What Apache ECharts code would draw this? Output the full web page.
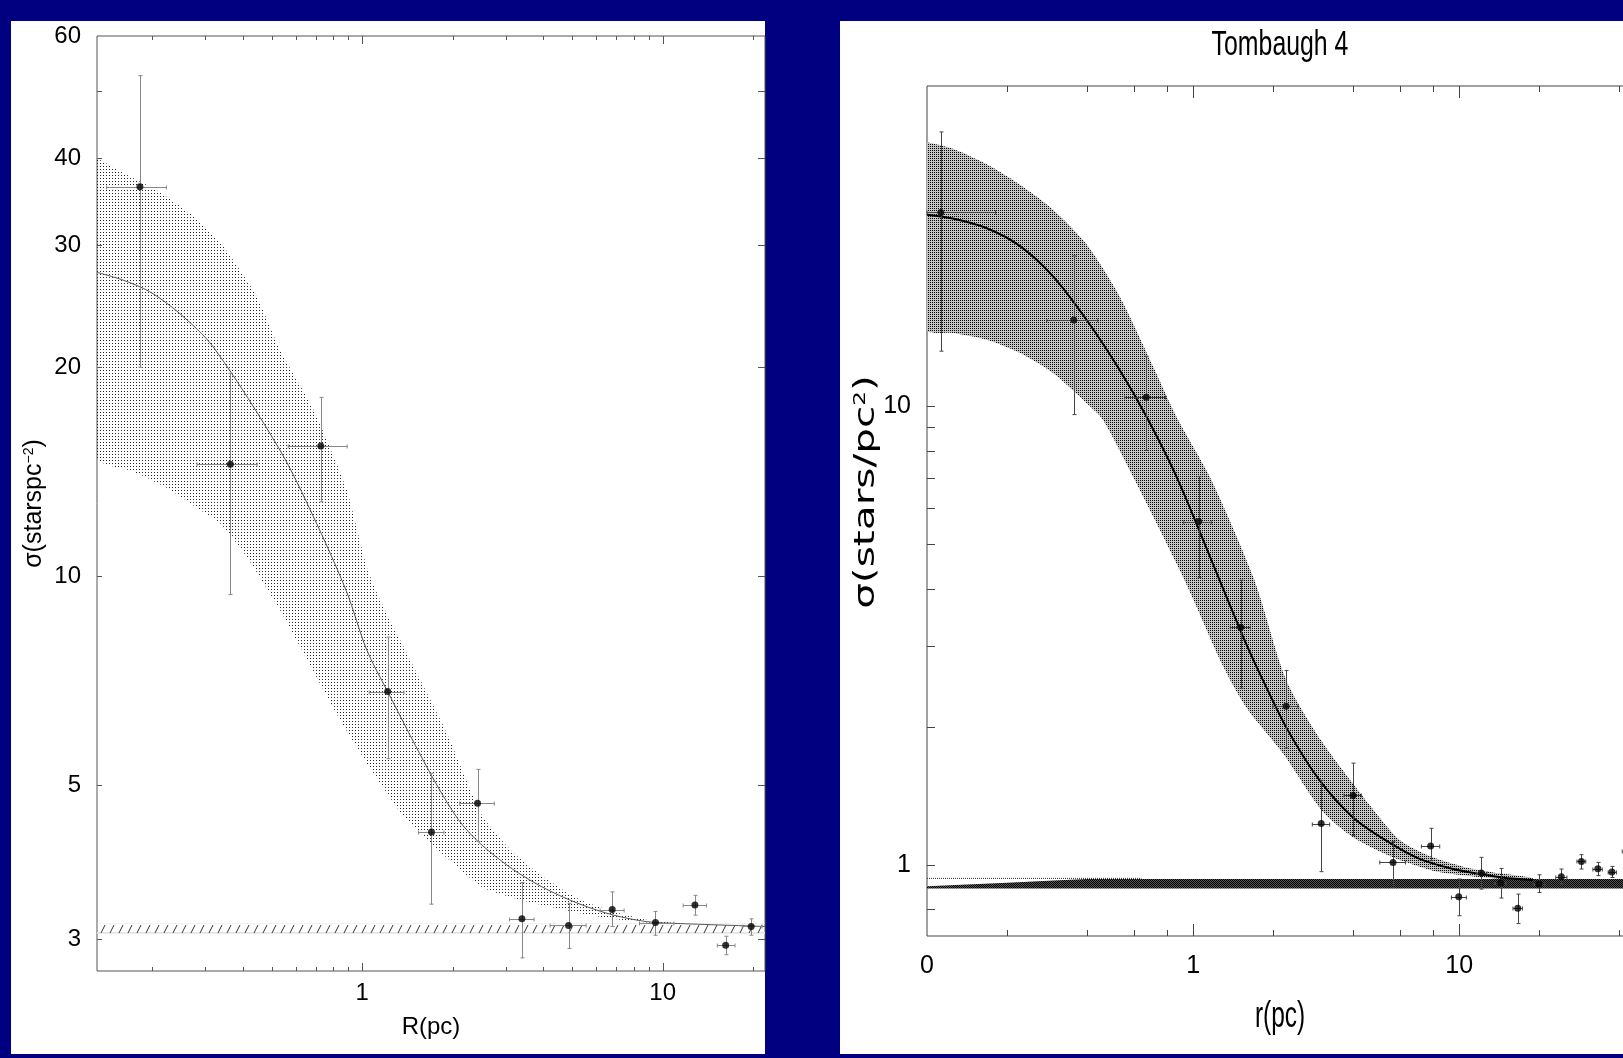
<!DOCTYPE html>
<html>
<head>
<meta charset="utf-8">
<title>Tombaugh 4 radial density profile</title>
<script src="https://cdn.jsdelivr.net/npm/echarts@6/dist/echarts.min.js"></script>
<style>
  html, body { margin: 0; padding: 0; background: #000080; overflow: hidden; }
  .panel { position: absolute; background: #fff; }
  #leftPanel { left: 11px; top: 21px; width: 754px; height: 1033px; }
  #rightPanel { left: 840px; top: 21px; width: 783px; height: 1033px; }
  #chart { position: absolute; left: 0; top: 0; width: 1623px; height: 1058px; }
</style>
</head>
<body>
<div class="panel" id="leftPanel"></div>
<div class="panel" id="rightPanel"></div>
<div id="chart"></div>
<script>
// ---- left panel: sigma(R) ----
const leftR     = [0.182, 0.364, 0.728, 1.215, 1.70, 2.42, 3.40, 4.86, 6.79, 9.46, 12.8, 16.2, 19.7];
const leftRlo   = [0.141, 0.282, 0.567, 1.055, 1.54, 2.11, 3.09, 4.22, 6.19, 8.37, 11.7, 15.2, 18.4];
const leftRhi   = [0.223, 0.447, 0.891, 1.377, 1.87, 2.75, 3.73, 5.56, 7.44, 10.9, 14.0, 17.4, 21.4];
const leftSig   = [36.4, 14.5, 15.4, 6.82, 4.28, 4.71, 3.21, 3.14, 3.31, 3.17, 3.36, 2.94, 3.13];
const leftSigLo = [20.0, 9.41, 12.8, 5.46, 3.37, 4.15, 2.82, 2.91, 3.13, 3.04, 3.25, 2.85, 3.04];
const leftSigHi = [52.6, 19.6, 18.1, 8.17, 5.20, 5.27, 3.62, 3.38, 3.51, 3.29, 3.47, 3.03, 3.21];

// fitted profile and its uncertainty band
const leftFitX = [0.131, 0.160, 0.196, 0.247, 0.319, 0.532, 0.687, 0.887, 1.034, 1.215, 1.681, 2.09, 2.47, 3.18, 4.11, 5.31, 6.86, 8.86, 11.43, 21.9];
const leftFitY = [27.4, 26.7, 25.7, 23.9, 21.4, 15.2, 12.2, 9.5, 7.84, 6.82, 5.21, 4.46, 4.12, 3.78, 3.54, 3.37, 3.25, 3.18, 3.16, 3.13];
const leftUpX  = [0.131, 0.160, 0.2065, 0.267, 0.344, 0.445, 0.532, 0.687, 0.887, 1.034, 1.145, 1.335, 1.479, 1.91, 2.5, 3.18, 4.11, 5.31, 6.86, 8.86, 11.43];
const leftUpY  = [40.0, 38.1, 36.0, 33.3, 29.9, 25.3, 21.2, 17.4, 13.33, 10.33, 9.26, 8.10, 7.42, 5.95, 4.53, 4.0, 3.66, 3.42, 3.29, 3.20, 3.16];
const leftLoX  = [0.131, 0.172, 0.226, 0.288, 0.336, 0.412, 0.532, 0.620, 0.843, 1.088, 1.406, 2.47, 3.18, 4.11, 5.31, 6.86, 8.86, 11.43];
const leftLoY  = [14.8, 14.16, 13.37, 12.47, 11.93, 10.68, 8.95, 7.93, 6.22, 5.21, 4.46, 3.58, 3.44, 3.35, 3.27, 3.21, 3.17, 3.16];
// background level
const leftBgX  = [0.131, 21.9];
const leftBgLo = [3.055, 3.055];
const leftBgHi = [3.16, 3.16];

// ---- right panel: Tombaugh 4 ----
const rightR     = [0.1127, 0.356, 0.667, 1.049, 1.509, 2.237, 3.03, 3.99, 5.64, 7.81, 9.96, 12.12, 14.32, 16.6, 19.95, 24.2, 28.8, 33.2, 37.5, 44];
const rightRlo   = [0.1, 0.282, 0.553, 0.923, 1.38, 1.995, 2.806, 3.69, 5.03, 7.21, 9.35, 11.6, 13.6, 15.93, 18.95, 23.06, 27.7, 31.8, 36.3, 41];
const rightRhi   = [0.181, 0.4385, 0.788, 1.17, 1.64, 2.477, 3.26, 4.29, 6.28, 8.45, 10.64, 12.72, 15.0, 17.28, 20.96, 25.4, 29.9, 34.5, 39.0, 47];
const rightSig   = [26.5, 15.43, 10.47, 5.61, 3.30, 2.22, 1.231, 1.418, 1.013, 1.10, 0.853, 0.960, 0.915, 0.805, 0.909, 0.943, 1.018, 0.981, 0.965, 1.075];
const rightSigLo = [13.2, 9.6, 8.02, 4.23, 2.43, 1.80, 0.967, 1.159, 0.893, 1.022, 0.775, 0.886, 0.847, 0.745, 0.871, 0.909, 0.98, 0.948, 0.939, 1.04];
const rightSigHi = [39.7, 21.3, 12.87, 7.03, 4.18, 2.655, 1.53, 1.668, 1.126, 1.202, 0.932, 1.039, 0.983, 0.864, 0.952, 0.98, 1.053, 1.013, 0.993, 1.11];

const rightFitX = [0.1, 0.125, 0.167, 0.223, 0.297, 0.397, 0.529, 0.667, 0.877, 1.258, 1.562, 1.83, 2.272, 2.99, 3.99, 5.32, 7.10, 9.48, 11.94, 15.04, 18.9];
const rightFitY = [26.2, 25.7, 24.5, 22.4, 19.25, 15.48, 12.03, 9.52, 6.92, 4.18, 3.09, 2.53, 1.966, 1.529, 1.27, 1.13, 1.031, 0.98, 0.956, 0.937, 0.927];
const rightUpX  = [0.1, 0.125, 0.167, 0.223, 0.297, 0.397, 0.529, 0.707, 0.865, 1.17, 1.70, 2.24, 3.03, 4.68, 5.97, 7.97, 10.6, 14.2, 18.9];
const rightUpY  = [37.7, 36.5, 33.8, 30.5, 26.9, 22.6, 17.4, 12.24, 9.51, 6.92, 4.18, 2.53, 1.869, 1.336, 1.134, 1.039, 0.988, 0.959, 0.937];
const rightLoX  = [0.1, 0.125, 0.167, 0.223, 0.297, 0.397, 0.458, 0.603, 0.929, 1.294, 1.59, 2.18, 3.03, 3.99, 5.64, 7.97, 10.6, 14.2, 18.9];
const rightLoY  = [14.72, 14.47, 14.0, 13.09, 11.84, 10.18, 9.36, 6.92, 4.18, 2.72, 2.20, 1.75, 1.32, 1.149, 1.039, 0.972, 0.948, 0.932, 0.926];
const rightBgX  = [0.1, 0.2, 0.3, 0.4, 45];
const rightBgLo = [0.889, 0.889, 0.889, 0.889, 0.889];
const rightBgHi = [0.899, 0.915, 0.925, 0.932, 0.932];
const rightBgErrX = [0.1, 0.64];
const rightBgErrY = [0.935, 0.935];

// tick marks / labels
const leftXMinor  = [0.2, 0.3, 0.4, 0.5, 0.6, 0.7, 0.8, 0.9, 2, 3, 4, 5, 6, 7, 8, 9, 20];
const leftXMajor  = [1, 10];
const leftYTicks  = [3, 5, 10, 20, 30, 40, 50];
const leftYLabels = [3, 5, 10, 20, 30, 40, 60];
const rightXMinor  = [0.2, 0.4, 0.6, 0.8, 2, 4, 6, 8, 20, 40];
const rightXMajor  = [1, 10];
const rightYTicks  = [0.8, 1, 2, 3, 4, 5, 6, 7, 8, 9, 10];
const rightYLabels = [1, 10];

const sansFont = "'Liberation Sans', Arial, Helvetica, sans-serif";
const wideFont = "'DejaVu Sans', 'Liberation Sans', sans-serif";

// small canvas tiles used as fill patterns
function tile(w, h, draw) {
  const c = document.createElement('canvas');
  c.width = w; c.height = h;
  draw(c.getContext('2d'));
  return c;
}
const leftDots = tile(3, 3, g => { g.fillStyle = '#222'; g.fillRect(1, 1, 1, 1); });
const rightDots = tile(2, 2, g => {
  g.fillStyle = '#c4c4c4'; g.fillRect(0, 0, 2, 2);
  g.fillStyle = '#000'; g.fillRect(0, 0, 1, 1);
});
const denseDots = tile(2, 2, g => {
  g.fillStyle = '#555'; g.fillRect(0, 0, 2, 2);
  g.fillStyle = '#000'; g.fillRect(0, 0, 1, 1); g.fillRect(1, 1, 1, 1);
});
const hatch = tile(9, 10, g => {
  g.fillStyle = '#e4e4e4'; g.fillRect(0, 8, 9, 2);
  g.strokeStyle = '#333'; g.lineWidth = 1;
  g.beginPath(); g.moveTo(2, 9); g.lineTo(6, 1); g.stroke();
});

// closed polygon between an upper and a lower edge
function bandSeries(idx, upX, upY, loX, loY, img, z, opts) {
  opts = opts || {};
  return {
    type: 'custom', xAxisIndex: idx, yAxisIndex: idx, z: z, silent: true,
    data: upX.map((x, i) => [x, upY[i]]),
    renderItem: function (params, api) {
      if (params.dataIndex !== 0) return;
      const pts = [];
      for (let i = 0; i < upX.length; i++) pts.push(api.coord([upX[i], upY[i]]));
      for (let i = loX.length - 1; i >= 0; i--) pts.push(api.coord([loX[i], loY[i]]));
      const fill = { image: img, repeat: 'repeat' };
      if (opts.alignY) fill.y = Math.round(pts[0][1]);
      const shape = { points: pts };
      if (opts.smooth) {
        // keep the smoothed outline inside the bounding box of the points
        const xs = pts.map(p => p[0]), ys = pts.map(p => p[1]);
        shape.smooth = opts.smooth;
        shape.smoothConstraint = [[Math.min.apply(null, xs), Math.min.apply(null, ys)],
                                  [Math.max.apply(null, xs), Math.max.apply(null, ys)]];
      }
      return { type: 'polygon', shape: shape, style: { fill: fill, stroke: null } };
    }
  };
}

function errorSeries(idx, xs, xlo, xhi, ys, ylo, yhi, color, cap) {
  return {
    type: 'custom', xAxisIndex: idx, yAxisIndex: idx, z: 4, silent: true,
    encode: { x: 0, y: 1 },
    data: xs.map((x, i) => [x, ys[i], xlo[i], xhi[i], ylo[i], yhi[i]]),
    renderItem: function (params, api) {
      const x = api.value(0), y = api.value(1);
      const c = api.coord([x, y]);
      const l = api.coord([api.value(2), y]), r = api.coord([api.value(3), y]);
      const b = api.coord([x, api.value(4)]), t = api.coord([x, api.value(5)]);
      const cx = Math.round(c[0]) + 0.5, cy = Math.round(c[1]) + 0.5;
      const st = { stroke: color, lineWidth: 1 };
      const ln = (x1, y1, x2, y2) => ({ type: 'line', shape: { x1: x1, y1: y1, x2: x2, y2: y2 }, style: st });
      return { type: 'group', children: [
        ln(cx, t[1], cx, b[1]),
        ln(cx - cap, t[1], cx + cap, t[1]),
        ln(cx - cap, b[1], cx + cap, b[1]),
        ln(l[0], cy, r[0], cy),
        ln(l[0], cy - cap, l[0], cy + cap),
        ln(r[0], cy - cap, r[0], cy + cap)
      ] };
    }
  };
}

// tick marks drawn inside the frame (top/bottom, left and optionally right)
function tickSeries(idx, xMinor, xMajor, yTicks, o) {
  return {
    type: 'custom', xAxisIndex: idx, yAxisIndex: idx, z: 6, silent: true,
    data: [[xMajor[0], yTicks[0]]],
    renderItem: function (params, api) {
      const cs = params.coordSys;
      const top = cs.y, bottom = cs.y + cs.height, left = cs.x, right = cs.x + cs.width;
      const st = { stroke: o.color, lineWidth: 1 };
      const out = [];
      const xt = (v, len) => {
        const px = Math.round(api.coord([v, yTicks[0]])[0]) + 0.5;
        out.push({ type: 'line', shape: { x1: px, y1: bottom, x2: px, y2: bottom - len }, style: st });
        out.push({ type: 'line', shape: { x1: px, y1: top, x2: px, y2: top + len }, style: st });
      };
      xMinor.forEach(v => xt(v, o.minor));
      xMajor.forEach(v => xt(v, o.major));
      yTicks.forEach(v => {
        const py = Math.round(api.coord([xMajor[0], v])[1]) + 0.5;
        out.push({ type: 'line', shape: { x1: left, y1: py, x2: left + o.yLeft, y2: py }, style: st });
        if (o.yRight) out.push({ type: 'line', shape: { x1: right, y1: py, x2: right - o.yRight, y2: py }, style: st });
      });
      return { type: 'group', children: out };
    }
  };
}

const chart = echarts.init(document.getElementById('chart'));

const option = {
  animation: false,
  backgroundColor: 'transparent',
  // condensed / stretched labels of the right-hand figure
  graphic: [
    {
      type: 'text', x: 1280, y: 45, scaleX: 0.71, silent: true,
      style: { text: 'Tombaugh 4', font: '35px ' + sansFont, fill: '#000',
               align: 'center', verticalAlign: 'middle', textAlign: 'center', textVerticalAlign: 'middle' }
    },
    {
      type: 'text', x: 1280, y: 1017, scaleX: 0.66, silent: true,
      style: { text: 'r(pc)', font: '37px ' + sansFont, fill: '#000',
               align: 'center', verticalAlign: 'middle', textAlign: 'center', textVerticalAlign: 'middle' }
    },
    {
      type: 'text', x: 867, y: 492, rotation: Math.PI / 2, scaleX: 1.45, silent: true,
      style: { text: 'σ(stars/pc{sup|2})', font: '28px ' + wideFont, fill: '#000',
               align: 'center', verticalAlign: 'middle', textAlign: 'center', textVerticalAlign: 'middle',
               rich: { sup: { font: '16px ' + wideFont, fill: '#000', verticalAlign: 'top' } } }
    }
  ],
  grid: [
    { left: 97, top: 36, width: 668, height: 935, outerBoundsMode: 'none', containLabel: false,
      show: true, borderColor: '#555', borderWidth: 1, backgroundColor: 'transparent' },
    { left: 927, top: 86, width: 706, height: 850, outerBoundsMode: 'none', containLabel: false,
      show: true, borderColor: '#444', borderWidth: 1, backgroundColor: 'transparent' }
  ],
  xAxis: [
    {
      type: 'log', gridIndex: 0, min: 0.131, max: 21.9,
      axisLine: { show: false }, axisTick: { show: false }, splitLine: { show: false },
      axisLabel: { color: '#000', fontFamily: sansFont, fontSize: 24, margin: 10, showMinLabel: false, showMaxLabel: false },
      name: 'R(pc)', nameLocation: 'middle', nameGap: 44,
      nameTextStyle: { color: '#000', fontFamily: sansFont, fontSize: 24 }
    },
    {
      type: 'log', gridIndex: 1, min: 0.1, max: 45,
      axisLine: { show: false }, axisTick: { show: false }, splitLine: { show: false },
      axisLabel: { color: '#000', fontFamily: sansFont, fontSize: 25, margin: 18, showMaxLabel: false,
                   formatter: v => (v < 1 ? '0' : String(v)) }
    }
  ],
  yAxis: [
    {
      type: 'log', gridIndex: 0, min: 2.7, max: 60,
      axisLine: { show: false }, axisTick: { show: false }, splitLine: { show: false },
      axisLabel: { customValues: leftYLabels, color: '#000', fontFamily: sansFont, fontSize: 24, margin: 16 },
      name: 'σ(starspc{sup|−2})', nameLocation: 'middle', nameRotate: 90, nameGap: 50,
      nameTextStyle: { color: '#000', fontFamily: sansFont, fontSize: 25,
                       rich: { sup: { fontFamily: sansFont, fontSize: 14, verticalAlign: 'top', color: '#000' } } }
    },
    {
      type: 'log', gridIndex: 1, min: 0.7, max: 50,
      axisLine: { show: false }, axisTick: { show: false }, splitLine: { show: false },
      axisLabel: { customValues: rightYLabels, color: '#000', fontFamily: sansFont, fontSize: 25, margin: 16 }
    }
  ],
  series: [
    // left panel
    bandSeries(0, leftUpX, leftUpY, leftLoX, leftLoY, leftDots, 1, { smooth: 0.2 }),
    bandSeries(0, leftBgX, leftBgHi, leftBgX, leftBgLo, hatch, 2, { alignY: true }),
    {
      type: 'line', xAxisIndex: 0, yAxisIndex: 0, z: 3, silent: true, showSymbol: false, smooth: 0.3,
      data: leftFitX.map((x, i) => [x, leftFitY[i]]),
      lineStyle: { color: '#555', width: 1 }
    },
    errorSeries(0, leftR, leftRlo, leftRhi, leftSig, leftSigLo, leftSigHi, '#888', 2),
    {
      type: 'scatter', xAxisIndex: 0, yAxisIndex: 0, z: 5, silent: true, symbolSize: 7,
      itemStyle: { color: '#000' },
      data: leftR.map((x, i) => [x, leftSig[i]])
    },
    tickSeries(0, leftXMinor, leftXMajor, leftYTicks, { color: '#555', minor: 4, major: 8, yLeft: 5, yRight: 7 }),

    // right panel
    bandSeries(1, rightUpX, rightUpY, rightLoX, rightLoY, rightDots, 1, { smooth: 0.25 }),
    bandSeries(1, rightBgX, rightBgHi, rightBgX, rightBgLo, denseDots, 2),
    {
      type: 'line', xAxisIndex: 1, yAxisIndex: 1, z: 2, silent: true, showSymbol: false,
      data: rightBgErrX.map((x, i) => [x, rightBgErrY[i]]),
      lineStyle: { color: '#333', width: 1, type: 'dotted' }
    },
    {
      type: 'line', xAxisIndex: 1, yAxisIndex: 1, z: 3, silent: true, showSymbol: false, smooth: 0.3,
      data: rightFitX.map((x, i) => [x, rightFitY[i]]),
      lineStyle: { color: '#000', width: 2 }
    },
    errorSeries(1, rightR, rightRlo, rightRhi, rightSig, rightSigLo, rightSigHi, '#444', 2),
    {
      type: 'scatter', xAxisIndex: 1, yAxisIndex: 1, z: 5, silent: true, symbolSize: 7,
      itemStyle: { color: '#000' },
      data: rightR.map((x, i) => [x, rightSig[i]])
    },
    tickSeries(1, rightXMinor, rightXMajor, rightYTicks, { color: '#444', minor: 6, major: 12, yLeft: 8, yRight: 0 })
  ]
};

chart.setOption(option);
</script>
</body>
</html>
